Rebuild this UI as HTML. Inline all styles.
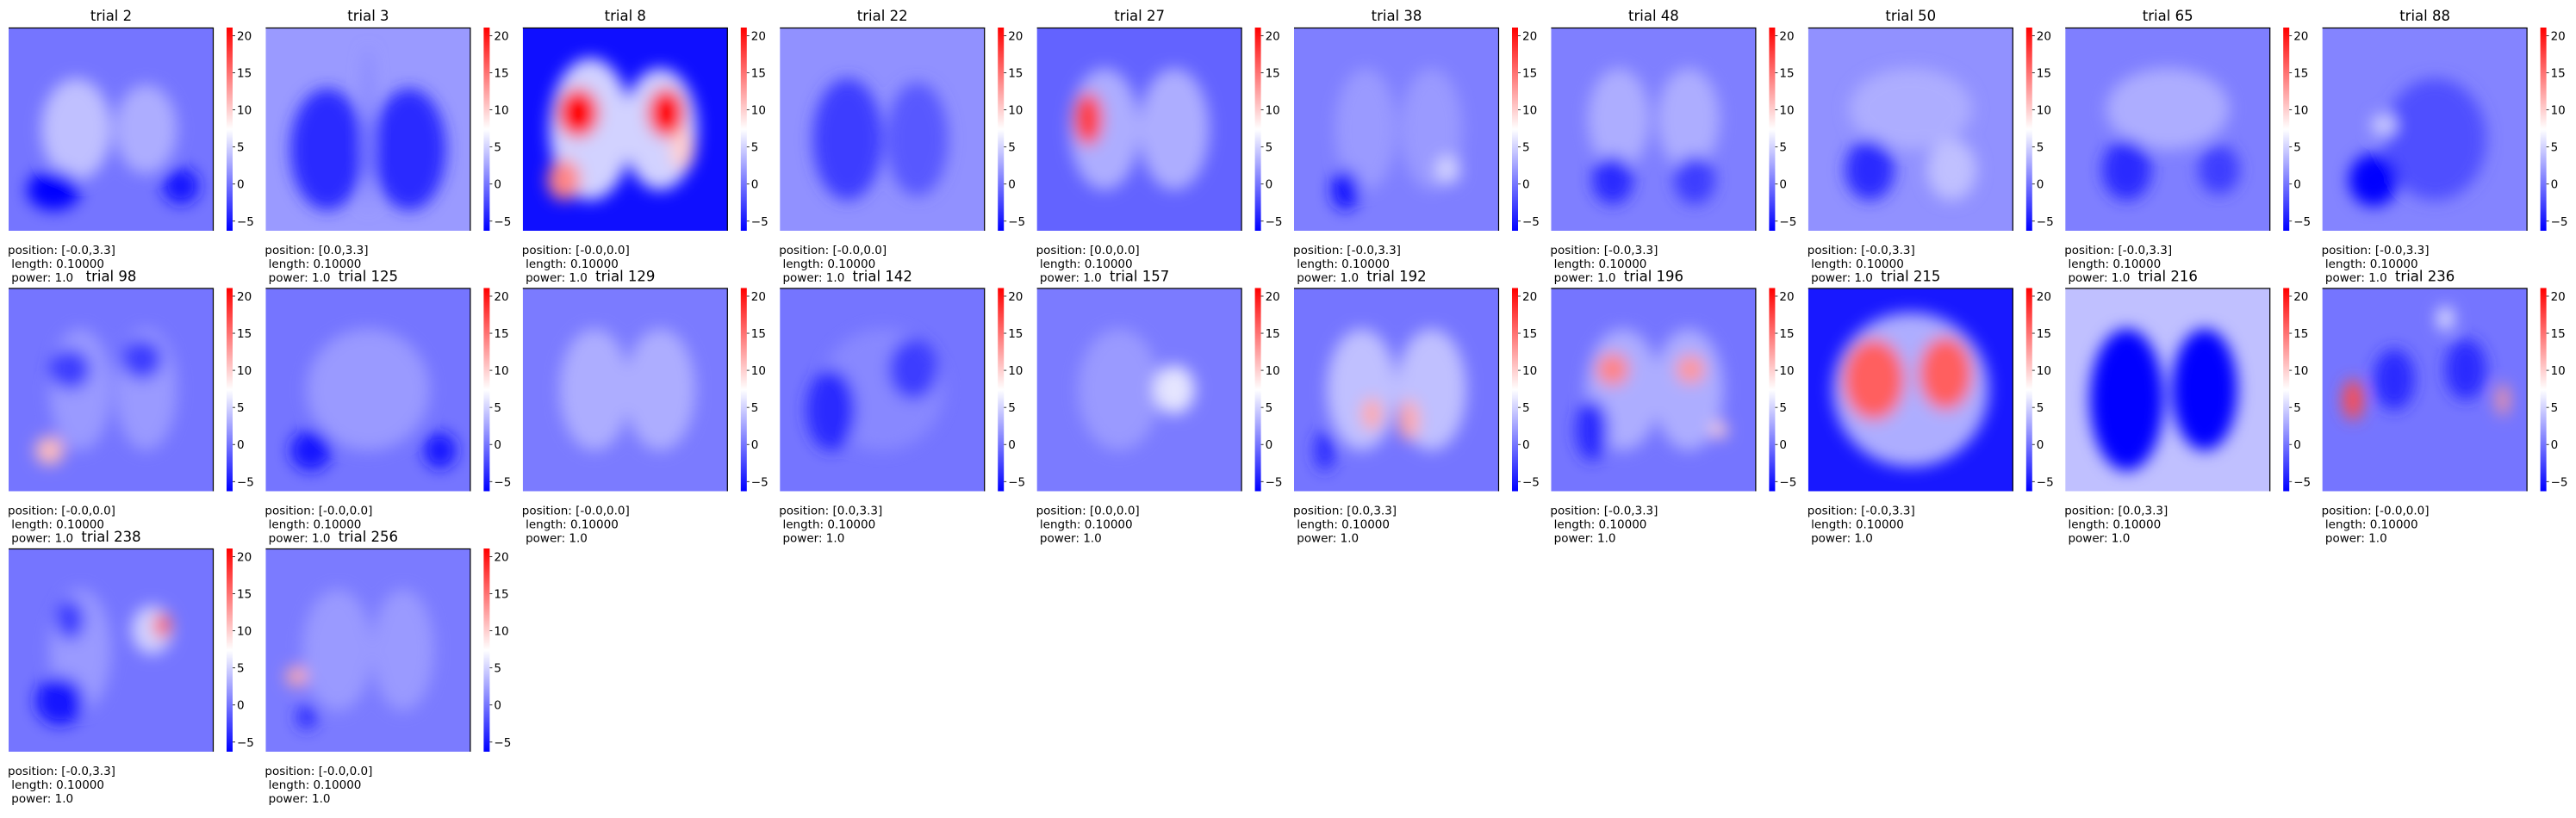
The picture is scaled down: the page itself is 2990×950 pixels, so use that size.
<!DOCTYPE html>
<html><head><meta charset="utf-8">
<style>
html,body{margin:0;padding:0;background:#fff;}
svg text{font-family:"DejaVu Sans","Liberation Sans",sans-serif;fill:#000;}
svg text.info{white-space:pre;}
</style></head>
<body>
<svg id="fig" width="2990" height="945" xmlns="http://www.w3.org/2000/svg">
<defs>
<linearGradient id="bwr" x1="0" y1="1" x2="0" y2="0">
<stop offset="0" stop-color="rgb(0,0,255)"/>
<stop offset="0.5" stop-color="rgb(255,255,255)"/>
<stop offset="1" stop-color="rgb(255,0,0)"/>
</linearGradient>
<filter id="blur" x="-50%" y="-50%" width="200%" height="200%"><feGaussianBlur stdDeviation="9"/></filter>
</defs>
</svg>
<script>
const trials = [2,3,8,22,27,38,48,50,65,88,98,125,129,142,157,192,196,215,216,236,238,256];
const positions = ["[-0.0,3.3]","[0.0,3.3]","[-0.0,0.0]","[-0.0,0.0]","[0.0,0.0]","[-0.0,3.3]","[-0.0,3.3]","[-0.0,3.3]","[-0.0,3.3]","[-0.0,3.3]",
"[-0.0,0.0]","[-0.0,0.0]","[-0.0,0.0]","[0.0,3.3]","[0.0,0.0]","[0.0,3.3]","[-0.0,3.3]","[-0.0,3.3]","[0.0,3.3]","[-0.0,0.0]",
"[-0.0,3.3]","[-0.0,0.0]"];
const bgValues = [0,2,-5.5,1.5,-1,0.5,0.5,1.5,0.5,0.8, 0,0,0.3,0,0.3,0,0,-5,4,0, 0,0.3];
const blobs = [
[[0.33,0.5,0.17,0.25,4],[0.67,0.5,0.15,0.22,3],[0.22,0.8,0.13,0.1,-6],[0.84,0.78,0.09,0.09,-5]],
[[0.3,0.6,0.18,0.3,-4],[0.7,0.6,0.18,0.3,-4],[0.5,0.5,0.03,0.4,1]],
[[0.33,0.5,0.2,0.35,5],[0.67,0.5,0.18,0.3,5],[0.27,0.42,0.1,0.12,21],[0.7,0.42,0.09,0.12,21],[0.2,0.75,0.08,0.1,14],[0.78,0.6,0.06,0.1,10]],
[[0.33,0.55,0.17,0.3,-3],[0.67,0.55,0.15,0.28,-1.5]],
[[0.33,0.5,0.17,0.3,3],[0.67,0.5,0.17,0.3,3],[0.25,0.45,0.07,0.13,18]],
[[0.35,0.5,0.15,0.3,2],[0.67,0.5,0.15,0.3,2],[0.25,0.8,0.07,0.1,-5],[0.75,0.7,0.06,0.07,5]],
[[0.33,0.45,0.15,0.25,3],[0.67,0.45,0.15,0.25,3],[0.3,0.75,0.1,0.12,-4],[0.7,0.75,0.1,0.12,-3]],
[[0.5,0.4,0.3,0.2,3],[0.3,0.7,0.12,0.15,-4],[0.7,0.7,0.12,0.15,4]],
[[0.5,0.4,0.3,0.2,3],[0.3,0.7,0.12,0.15,-4],[0.75,0.7,0.1,0.12,-3]],
[[0.55,0.55,0.25,0.3,-2],[0.25,0.75,0.12,0.13,-6],[0.3,0.48,0.06,0.05,5]],
[[0.35,0.5,0.15,0.3,2],[0.67,0.5,0.15,0.3,2],[0.3,0.4,0.1,0.1,-3],[0.65,0.35,0.1,0.1,-3],[0.2,0.8,0.07,0.07,11]],
[[0.5,0.5,0.3,0.3,2],[0.22,0.8,0.1,0.1,-5],[0.85,0.8,0.08,0.09,-5]],
[[0.35,0.5,0.17,0.3,3],[0.67,0.5,0.17,0.3,3]],
[[0.5,0.5,0.3,0.3,1],[0.25,0.6,0.12,0.2,-4],[0.65,0.4,0.12,0.15,-3]],
[[0.4,0.5,0.2,0.3,2],[0.67,0.5,0.1,0.12,6]],
[[0.33,0.5,0.17,0.3,4],[0.67,0.5,0.17,0.3,4],[0.38,0.62,0.05,0.08,12],[0.56,0.65,0.05,0.1,12],[0.15,0.8,0.05,0.1,-4]],
[[0.35,0.5,0.18,0.3,3],[0.67,0.5,0.17,0.3,3],[0.3,0.4,0.08,0.08,14],[0.68,0.4,0.07,0.07,13],[0.2,0.7,0.08,0.15,-4],[0.82,0.7,0.04,0.04,10]],
[[0.5,0.5,0.38,0.38,3],[0.32,0.45,0.15,0.2,16],[0.67,0.42,0.13,0.18,16]],
[[0.3,0.55,0.18,0.35,-6],[0.68,0.5,0.16,0.3,-6]],
[[0.35,0.45,0.1,0.15,-4],[0.7,0.4,0.1,0.15,-4],[0.6,0.15,0.04,0.06,6],[0.15,0.55,0.05,0.1,17],[0.88,0.55,0.03,0.08,13]],
[[0.35,0.5,0.15,0.3,2],[0.7,0.4,0.1,0.12,5],[0.75,0.38,0.04,0.06,17],[0.25,0.75,0.12,0.12,-5],[0.3,0.35,0.07,0.1,-3]],
[[0.35,0.5,0.17,0.3,2],[0.67,0.5,0.15,0.3,2],[0.15,0.63,0.05,0.05,12],[0.2,0.83,0.05,0.06,-4]]
];
const cbTicks = [-5,0,5,10,15,20];
const VMIN=-6.3, VMAX=21.1;

function bwr(v){
  let t=(v-VMIN)/(VMAX-VMIN); t=Math.max(0,Math.min(1,t));
  if(t<0.5){const c=Math.round(2*t*255);return `rgb(${c},${c},255)`;}
  const c=Math.round((2-2*t)*255);return `rgb(255,${c},${c})`;
}
const NS="http://www.w3.org/2000/svg";
const svg=document.getElementById('fig');
const defs=svg.querySelector('defs');
function mk(tag,attrs,parent){const e=document.createElementNS(NS,tag);for(const k in attrs)e.setAttribute(k,attrs[k]);(parent||svg).appendChild(e);return e;}

const X0=10, PITCH=298.4, W=238, H=236, Y0=32, RPITCH=302.5;
trials.forEach((tr,i)=>{
  const col=i%10,row=Math.floor(i/10);
  const x=X0+col*PITCH, y=Y0+row*RPITCH;
  const g=mk('g',{});
  
  
  const cp=mk('clipPath',{id:'cp'+i},defs);
  mk('rect',{x:x,y:y,width:W,height:H},cp);
  const title=mk('text',{x:x+W/2,y:y-8,'text-anchor':'middle','font-size':'16.5'},g);
  title.textContent='trial '+tr;
  
  
  const img=mk('g',{'clip-path':`url(#cp${i})`},g);
  
  
  mk('rect',{x:x,y:y,width:W,height:H,fill:bwr(bgValues[i])},img);
  const bl=mk('g',{filter:'url(#blur)'},img);
  blobs[i].forEach(b=>{
    const e=mk('ellipse',{cx:x+b[0]*W,cy:y+b[1]*H,rx:b[2]*W,ry:b[3]*H,fill:bwr(b[4])},bl);
    
    
  });
  mk('line',{x1:x,y1:y+0.5,x2:x+W,y2:y+0.5,stroke:'#000','stroke-width':1.2},g);
  mk('line',{x1:x+W-0.5,y1:y,x2:x+W-0.5,y2:y+H,stroke:'#000','stroke-width':1.2},g);
  const cbx=x+253;
  const cb=mk('rect',{x:cbx,y:y,width:7,height:H,fill:'url(#bwr)'},g);
  
  
  cbTicks.forEach(v=>{
    const ty=y+(VMAX-v)/(VMAX-VMIN)*H;
    mk('line',{x1:cbx+7,y1:ty,x2:cbx+10,y2:ty,stroke:'#000','stroke-width':0.8},g);
    const t=mk('text',{x:cbx+12,y:ty+5,'font-size':'13.5'},g);
    t.textContent=v<0?'\u2212'+Math.abs(v):String(v);
    
    
  });
  const lines=['position: '+positions[i],' length: 0.10000',' power: 1.0'];
  lines.forEach((s,k)=>{
    const t=mk('text',{x:x-1,y:y+H+27+k*16,'font-size':'13.5','class':'info'},g);
    t.textContent=s.replace(/^ /,'\u00a0');
    
    
  });
});
</script>
</body></html>
